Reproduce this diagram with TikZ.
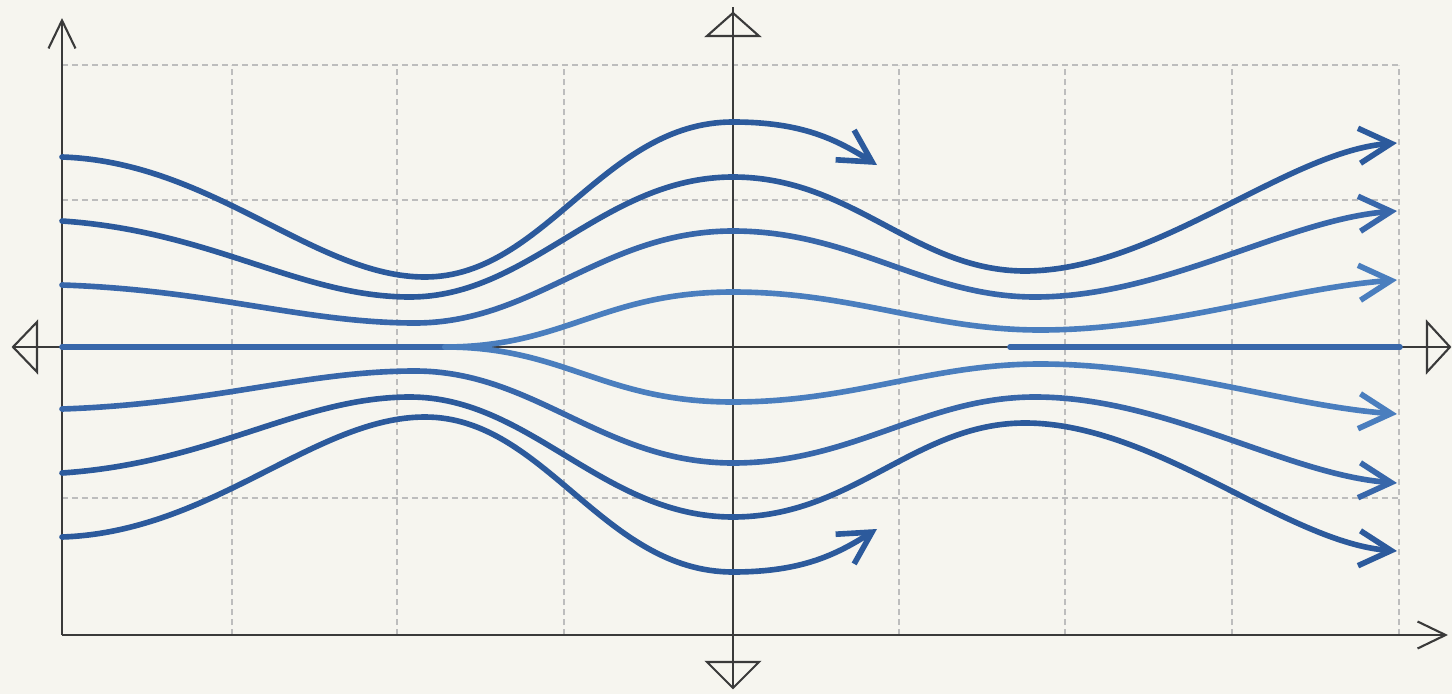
\documentclass[tikz,border=0pt]{standalone}
\usetikzlibrary{arrows.meta}
\definecolor{paper}{HTML}{F6F5EF}
\definecolor{axisgray}{HTML}{3A3A3A}
\definecolor{gridgray}{HTML}{BDBDBD}
\definecolor{flowdark}{HTML}{2C5A9C}
\definecolor{flowmid}{HTML}{3867AA}
\definecolor{flowlight}{HTML}{4A7EBE}
\tikzset{
  axisline/.style = {draw=axisgray, line width=0.6pt},
  axistip/.style  = {-{Straight Barb[length=2.8mm,width=2.7mm]}},
  gridline/.style = {draw=gridgray, line width=0.4pt, dash pattern=on 0.6mm off 0.4mm},
  flow/.style     = {line width=1.6pt, line cap=round},
  flowtip/.style  = {-{Straight Barb[length=3.2mm,width=3.5mm]}},
}

\begin{document}
\begin{tikzpicture}[x=0.1mm,y=0.1mm]
\fill[paper] (0,0) rectangle (1452,694);
\useasboundingbox (0,0) rectangle (1452,694);
% grid
\foreach \gx in {232,397,564,899,1065,1232,1399}
  \draw[gridline] (\gx,59) -- (\gx,629);
\foreach \gy in {629,494,196}
  \draw[gridline] (62,\gy) -- (1399,\gy);
% frame axes
\coordinate (O) at (62,59);
\coordinate (ytop) at (62,676);
\coordinate (xend) at (1448,59);
\draw[axisline,axistip] (O) -- (ytop);
\draw[axisline,axistip] (O) -- (xend);
% centre axes with open triangles
\coordinate (cl) at (13,347);
\coordinate (cr) at (1450,347);
\coordinate (ct) at (733,687);
\coordinate (cb) at (733,6);
\draw[axisline] (cl) -- (cr);
\draw[axisline] (cb) -- (ct);
\draw[axisline] (cl) -- ++(24,25) -- ++(0,-50) -- cycle;
\draw[axisline] (cr) -- ++(-23,25) -- ++(0,-50) -- cycle;
\draw[axisline] (733,681) -- ++(26,-23) -- ++(-52,0) -- cycle;
\draw[axisline] (cb) -- ++(26,26) -- ++(-52,0) -- cycle;
% streamlines
\draw[flow,flowmid] (62,347) -- (445,347);
\draw[flow,flowmid] (1010,347) -- (1400,347);
\foreach \s in {1,-1}{
\begin{scope}[shift={(0,{347*(1-\s)})},yscale=\s]
  \draw[flow,flowdark,flowtip] (62,537) .. controls +(150,-5) and +(-110,0) .. (425,417)
    .. controls +(120,0) and +(-130,0) .. (733,572)
    .. controls +(70,0) and +(-40,25) .. (877,529);
  \draw[flow,flowdark,flowtip] (62,473) .. controls +(150,-10) and +(-110,0) .. (410,397)
    .. controls +(120,0) and +(-130,0) .. (733,517)
    .. controls +(120,0) and +(-110,0) .. (1025,423)
    .. controls +(130,0) and +(-110,-8) .. (1397,551);
  \draw[flow,flowmid,flowtip] (62,409) .. controls +(150,-5) and +(-110,0) .. (415,371)
    .. controls +(120,0) and +(-130,0) .. (733,463)
    .. controls +(120,0) and +(-110,0) .. (1035,397)
    .. controls +(130,0) and +(-110,-8) .. (1397,483);
  \draw[flow,flowlight,flowtip] (445,347) .. controls +(120,0) and +(-130,0) .. (733,402)
    .. controls +(120,0) and +(-110,0) .. (1040,364)
    .. controls +(130,0) and +(-110,-8) .. (1397,414);
\end{scope}
}
\end{tikzpicture}
\end{document}
